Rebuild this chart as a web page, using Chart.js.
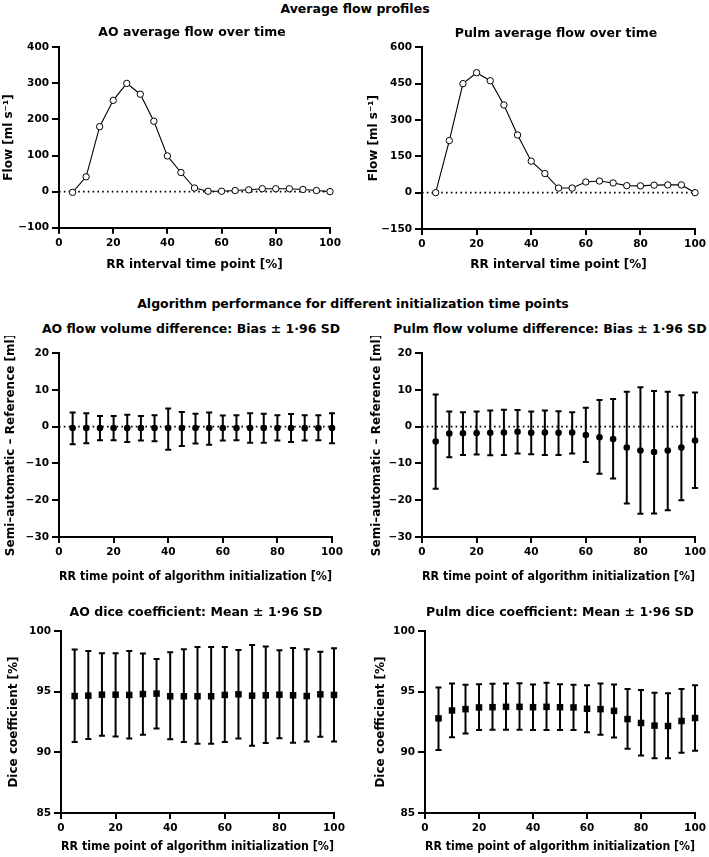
<!DOCTYPE html>
<html>
<head>
<meta charset="utf-8">
<script src="https://cdn.jsdelivr.net/npm/chart.js@4.4.1/dist/chart.umd.min.js"></script>
<style>
  html, body { margin: 0; padding: 0; background: #fff; }
  #page { position: relative; width: 709px; height: 857px; overflow: hidden; }
  canvas { position: absolute; }
  .ttl {
    position: absolute;
    transform: translate(-50%, -50%);
    white-space: nowrap;
    font: bold 12.5px "DejaVu Sans", sans-serif;
    color: #000;
    z-index: 2;
  }
</style>
</head>
<body>
<div id="page">
  <div class="ttl" style="left:355px; top:8px;">Average flow profiles</div>
  <div class="ttl" style="left:353px; top:303px;">Algorithm performance for different initialization time points</div>
  <div class="ttl" style="left:192px; top:31px;">AO average flow over time</div>
  <div class="ttl" style="left:556px; top:32px;">Pulm average flow over time</div>
  <div class="ttl" style="left:191px; top:328px;">AO flow volume difference: Bias ± 1·96 SD</div>
  <div class="ttl" style="left:550px; top:328px;">Pulm flow volume difference: Bias ± 1·96 SD</div>
  <div class="ttl" style="left:196px; top:611px;">AO dice coefficient: Mean ± 1·96 SD</div>
  <div class="ttl" style="left:560px; top:611px;">Pulm dice coefficient: Mean ± 1·96 SD</div>
  <canvas id="aoFlowChart"></canvas>
  <canvas id="pulmFlowChart"></canvas>
  <canvas id="aoBiasChart"></canvas>
  <canvas id="pulmBiasChart"></canvas>
  <canvas id="aoDiceChart"></canvas>
  <canvas id="pulmDiceChart"></canvas>
</div>
<script>
// RR time points (%) shared by every panel
const rrPoints = [5, 10, 15, 20, 25, 30, 35, 40, 45, 50, 55, 60, 65, 70, 75, 80, 85, 90, 95, 100];

// average flow profiles [ml/s]
const aoFlow = [-2, 41, 180, 253, 300, 270, 195, 99, 53, 10, 1, 1, 3, 5, 8, 8, 8, 6, 3, 0];
const pulmFlow = [0, 215, 450, 495, 462, 362, 238, 130, 79, 19, 19, 44, 48, 40, 29, 28, 31, 32, 32, 0];

// flow volume difference [ml]: bias and limits (bias +/- 1.96 SD)
const aoBias = [-0.4, -0.4, -0.4, -0.4, -0.4, -0.4, -0.4, -0.4, -0.4, -0.4, -0.4, -0.4, -0.4, -0.4, -0.4, -0.4, -0.4, -0.4, -0.4, -0.4];
const aoBiasUpper = [3.8, 3.6, 2.9, 2.9, 3.2, 2.9, 3.1, 4.9, 4.0, 3.5, 3.8, 3.0, 3.1, 3.6, 3.5, 3.1, 3.4, 3.1, 3.1, 3.6];
const aoBiasLower = [-4.8, -4.5, -3.7, -3.7, -4.2, -3.8, -4.0, -6.3, -5.3, -4.6, -4.9, -3.8, -3.7, -4.4, -4.4, -3.8, -4.2, -3.8, -3.7, -4.5];

const pulmBias = [-4.05, -1.9, -1.8, -1.75, -1.7, -1.6, -1.4, -1.7, -1.6, -1.7, -1.6, -2.3, -2.9, -3.4, -5.7, -6.5, -6.9, -6.5, -5.7, -3.8];
const pulmBiasUpper = [8.75, 4.1, 3.9, 4.1, 4.4, 4.6, 4.5, 4.1, 4.4, 4.2, 3.9, 5.1, 7.2, 7.5, 9.5, 10.7, 9.7, 9.5, 8.5, 9.3];
const pulmBiasLower = [-16.9, -8.3, -7.7, -7.6, -7.8, -7.7, -7.3, -7.5, -7.7, -7.7, -7.3, -9.6, -12.8, -14.1, -20.9, -23.7, -23.6, -22.7, -20.0, -16.7];

// dice coefficient [%]: mean and mean +/- 1.96 SD
const aoDice = [94.64, 94.67, 94.75, 94.75, 94.73, 94.8, 94.84, 94.62, 94.62, 94.62, 94.62, 94.73, 94.78, 94.67, 94.7, 94.75, 94.7, 94.64, 94.78, 94.73];
const aoDiceUpper = [98.47, 98.36, 98.17, 98.17, 98.36, 98.14, 97.7, 98.25, 98.5, 98.69, 98.69, 98.69, 98.44, 98.85, 98.72, 98.42, 98.6, 98.5, 98.3, 98.58];
const aoDiceLower = [90.85, 91.1, 91.37, 91.31, 91.15, 91.45, 91.97, 91.07, 90.85, 90.71, 90.71, 90.85, 91.15, 90.55, 90.77, 91.17, 90.8, 90.9, 91.28, 90.9];

const pulmDice = [92.8, 93.45, 93.56, 93.7, 93.72, 93.75, 93.75, 93.72, 93.75, 93.72, 93.7, 93.59, 93.56, 93.42, 92.74, 92.42, 92.2, 92.17, 92.58, 92.83];
const pulmDiceUpper = [95.35, 95.68, 95.57, 95.62, 95.65, 95.68, 95.7, 95.6, 95.73, 95.62, 95.57, 95.52, 95.68, 95.6, 95.22, 95.14, 94.92, 94.86, 95.22, 95.52];
const pulmDiceLower = [90.2, 91.25, 91.55, 91.85, 91.87, 91.87, 91.87, 91.85, 91.85, 91.85, 91.85, 91.66, 91.44, 91.22, 90.3, 89.73, 89.51, 89.51, 89.97, 90.14];

// axis ranges / tick steps
const xRange = [0, 100, 20];
const flowAoRange = [-100, 400, 100];
const flowPulmRange = [-150, 600, 150];
const biasRange = [-30, 20, 10];
const diceRange = [85, 100, 5];

const xLabelFlow = 'RR interval time point [%]';
const xLabelInit = 'RR time point of algorithm initialization [%]';
const yLabelFlow = 'Flow [ml s⁻¹]';
const yLabelBias = 'Semi–automatic – Reference [ml]';
const yLabelDice = 'Dice coefficient [%]';

Chart.defaults.font.family = '"DejaVu Sans", sans-serif';
Chart.defaults.font.weight = 'bold';
Chart.defaults.color = '#000';

const TITLE_FONT = { size: 12, weight: 'bold', lineHeight: 1.2 };
const TICK_FONT = { size: 10.5, weight: 'bold' };

function toPoints(ys) {
    return rrPoints.map((x, i) => ({ x: x, y: ys[i] }));
}

// draws vertical error bars with caps, under the markers
const errorBarPlugin = {
    id: 'errorBars',
    beforeDatasetDraw(chart, args, opts) {
        if (args.index !== 0 || !opts.upper) return;
        const { ctx } = chart;
        const xs = chart.scales.x;
        const ys = chart.scales.y;
        ctx.save();
        ctx.strokeStyle = '#000';
        ctx.lineWidth = 2;
        rrPoints.forEach((v, i) => {
            const px = xs.getPixelForValue(v);
            const top = ys.getPixelForValue(opts.upper[i]);
            const bot = ys.getPixelForValue(opts.lower[i]);
            ctx.beginPath();
            ctx.moveTo(px, top);
            ctx.lineTo(px, bot);
            ctx.moveTo(px - 3, top);
            ctx.lineTo(px + 3, top);
            ctx.moveTo(px - 3, bot);
            ctx.lineTo(px + 3, bot);
            ctx.stroke();
        });
        ctx.restore();
    }
};

function minusSign(value) {
    return String(value).replace('-', '−');
}

// box = canvas rect on the page, area = wanted chart area (page coords)
function makePanel(id, box, area, yTitleX, xTitleY, yRange, xTitle, yTitle, datasets, errorBars) {
    const canvas = document.getElementById(id);
    canvas.width = box.w;
    canvas.height = box.h;
    canvas.style.left = box.x + 'px';
    canvas.style.top = box.y + 'px';

    const half = TITLE_FONT.size * TITLE_FONT.lineHeight / 2;
    const yAxisWidth = area.l - box.x;
    const xAxisHeight = box.y + box.h - area.b;

    return new Chart(canvas.getContext('2d'), {
        type: 'line',
        data: { datasets: datasets },
        options: {
            responsive: false,
            animation: false,
            devicePixelRatio: 1,
            layout: {
                padding: { left: 0, bottom: 0, top: area.t - box.y, right: box.x + box.w - area.r }
            },
            plugins: {
                legend: { display: false },
                tooltip: { enabled: false },
                errorBars: errorBars || {}
            },
            scales: {
                x: {
                    type: 'linear',
                    min: xRange[0],
                    max: xRange[1],
                    border: { display: true, color: '#000', width: 2 },
                    grid: { drawOnChartArea: false, drawTicks: true, tickLength: 6, color: '#000', lineWidth: 2 },
                    ticks: { stepSize: xRange[2], padding: 3, font: TICK_FONT, color: '#000', maxRotation: 0 },
                    title: {
                        display: true,
                        text: xTitle,
                        font: TITLE_FONT,
                        color: '#000',
                        padding: { top: 0, bottom: (box.y + box.h - xTitleY) - half }
                    },
                    afterFit: (scale) => { scale.height = xAxisHeight; }
                },
                y: {
                    type: 'linear',
                    min: yRange[0],
                    max: yRange[1],
                    border: { display: true, color: '#000', width: 2 },
                    grid: { drawOnChartArea: false, drawTicks: true, tickLength: 7, color: '#000', lineWidth: 2 },
                    ticks: { stepSize: yRange[2], padding: 3, font: TICK_FONT, color: '#000', callback: minusSign },
                    title: {
                        display: true,
                        text: yTitle,
                        font: TITLE_FONT,
                        color: '#000',
                        padding: { top: (yTitleX - box.x) - half, bottom: 0 }
                    },
                    afterFit: (scale) => { scale.width = yAxisWidth; }
                }
            }
        },
        plugins: [errorBarPlugin]
    });
}

function zeroLine() {
    return {
        data: [{ x: xRange[0], y: 0 }, { x: xRange[1], y: 0 }],
        borderColor: '#000',
        borderWidth: 1.6,
        borderDash: [1.6, 3.2],
        pointRadius: 0,
        clip: false
    };
}

function flowSeries(values) {
    return {
        data: toPoints(values),
        borderColor: '#000',
        borderWidth: 1.1,
        pointRadius: 3.2,
        pointBorderWidth: 1,
        pointBorderColor: '#000',
        pointBackgroundColor: '#fff',
        tension: 0,
        clip: false
    };
}

function markerSeries(values, style, radius) {
    return {
        data: toPoints(values),
        showLine: false,
        pointStyle: style,
        pointRadius: radius,
        pointBorderWidth: 0,
        pointBackgroundColor: '#000',
        pointBorderColor: '#000',
        clip: false
    };
}

document.addEventListener('DOMContentLoaded', () => {
    makePanel('aoFlowChart',
        { x: 0, y: 38, w: 354, h: 242 }, { l: 59, t: 45.7, r: 330, b: 227.7 }, 9, 265,
        flowAoRange, xLabelFlow, yLabelFlow,
        [flowSeries(aoFlow), zeroLine()]);

    makePanel('pulmFlowChart',
        { x: 354, y: 38, w: 355, h: 242 }, { l: 422, t: 47, r: 697, b: 229 }, 374, 265,
        flowPulmRange, xLabelFlow, yLabelFlow,
        [flowSeries(pulmFlow), zeroLine()]);

    makePanel('aoBiasChart',
        { x: 0, y: 336, w: 354, h: 254 }, { l: 59, t: 353, r: 332, b: 537 }, 11, 577,
        biasRange, xLabelInit, yLabelBias,
        [markerSeries(aoBias, 'circle', 3.3), zeroLine()],
        { upper: aoBiasUpper, lower: aoBiasLower });

    makePanel('pulmBiasChart',
        { x: 354, y: 336, w: 355, h: 254 }, { l: 422, t: 353, r: 697, b: 537 }, 377, 577,
        biasRange, xLabelInit, yLabelBias,
        [markerSeries(pulmBias, 'circle', 3.3), zeroLine()],
        { upper: pulmBiasUpper, lower: pulmBiasLower });

    makePanel('aoDiceChart',
        { x: 0, y: 618, w: 354, h: 239 }, { l: 61, t: 631, r: 334, b: 813 }, 14, 847,
        diceRange, xLabelInit, yLabelDice,
        [markerSeries(aoDice, 'rect', 4.6)],
        { upper: aoDiceUpper, lower: aoDiceLower });

    makePanel('pulmDiceChart',
        { x: 354, y: 618, w: 355, h: 239 }, { l: 425, t: 631, r: 698, b: 813 }, 381, 847,
        diceRange, xLabelInit, yLabelDice,
        [markerSeries(pulmDice, 'rect', 4.6)],
        { upper: pulmDiceUpper, lower: pulmDiceLower });
});
</script>
</body>
</html>
